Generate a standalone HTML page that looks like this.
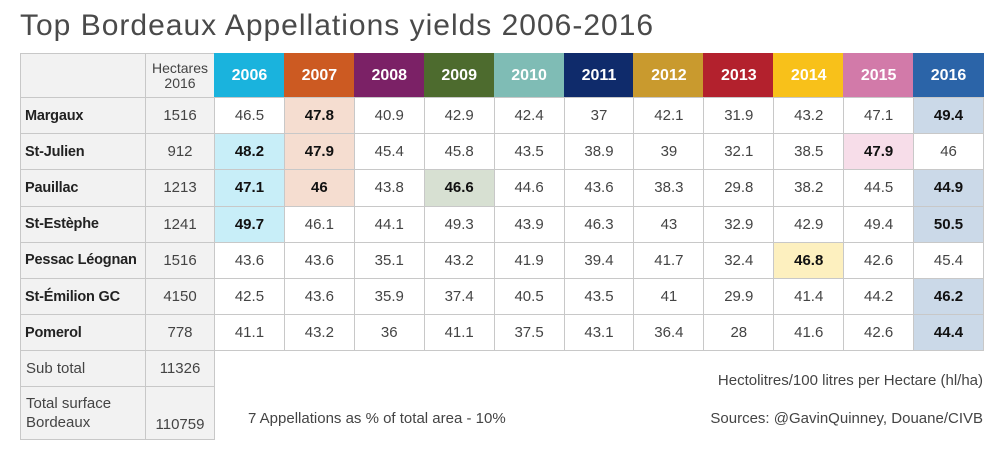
<!DOCTYPE html>
<html><head><meta charset="utf-8">
<style>
body{margin:0;width:1000px;height:459px;background:#fff;position:relative;overflow:hidden;font-family:"Liberation Sans",sans-serif;color:#333}
.c{position:absolute;box-sizing:border-box;border:1px solid #c8c8c8;display:flex;align-items:center;justify-content:center;font-size:15px;color:#444}
.t{position:absolute;font-size:15px;color:#444;white-space:nowrap}
</style></head><body>
<div class="t" style="left:20px;top:9px;font-size:30px;color:#4a4a4a;letter-spacing:1px">Top Bordeaux Appellations yields 2006-2016</div>
<div id="tbl"></div>
<div class="t" style="right:17px;top:372px">Hectolitres/100 litres per Hectare (hl/ha)</div>
<div class="t" style="right:17px;top:410px">Sources: @GavinQuinney, Douane/CIVB</div>
<div class="t" style="left:248px;top:410px">7 Appellations as % of total area - 10%</div>
<script>
const years=['2006','2007','2008','2009','2010','2011','2012','2013','2014','2015','2016'];
const yearColors=['#1ab3dd','#cc5a22','#7b2166','#4d6b2e','#7fbcb5','#0f2b6b','#c99a2e','#b3212d','#f8c11a','#d27aa9','#2b64a8'];
const names=['Margaux','St-Julien','Pauillac','St-Estèphe','Pessac Léognan','St-Émilion GC','Pomerol'];
const hectares=[1516,912,1213,1241,1516,4150,778];
const yields=[
[46.5,47.8,40.9,42.9,42.4,37,42.1,31.9,43.2,47.1,49.4],
[48.2,47.9,45.4,45.8,43.5,38.9,39,32.1,38.5,47.9,46],
[47.1,46,43.8,46.6,44.6,43.6,38.3,29.8,38.2,44.5,44.9],
[49.7,46.1,44.1,49.3,43.9,46.3,43,32.9,42.9,49.4,50.5],
[43.6,43.6,35.1,43.2,41.9,39.4,41.7,32.4,46.8,42.6,45.4],
[42.5,43.6,35.9,37.4,40.5,43.5,41,29.9,41.4,44.2,46.2],
[41.1,43.2,36,41.1,37.5,43.1,36.4,28,41.6,42.6,44.4]];
const highlights=[[0,1],[0,10],[1,0],[1,1],[1,9],[2,0],[2,1],[2,3],[2,10],[3,0],[3,10],[4,8],[5,10],[6,10]];
const hlColors=['#c8eef8','#f5ddd0','#ececec','#d7e0d2','#d4e3df','#ccd3e4','#f3e6cc','#f1d0d3','#fdf0bf','#f7dde9','#cbd9e8'];
const subTotal=11326,totalSurface=110759;
const tbl=document.getElementById('tbl');
const X0=20,XN=145,XH=214,XR=983,Y0=53,YH=97,RH=36.2;
const cw=(XR-XH)/years.length;
function cell(x,y,w,h,txt,style,name){
  const d=document.createElement('div');d.className='c';
  d.style.left=x+'px';d.style.top=y+'px';d.style.width=(w+1)+'px';d.style.height=(h+1)+'px';
  Object.assign(d.style,style||{});d.innerHTML=txt;
  
  
  tbl.appendChild(d);return d;}
cell(X0,Y0,XN-X0,YH-Y0,'',{background:'#f2f2f2'},'header-corner');
cell(XN,Y0,XH-XN,YH-Y0,'Hectares<br>2016',{background:'#f2f2f2',lineHeight:'15px',textAlign:'center',fontSize:'14px'},'hectares-header');
years.forEach((y,i)=>cell(XH+i*cw,Y0,cw,YH-Y0,y,{background:yearColors[i],color:'#fff',fontWeight:'bold',fontSize:'16px',borderColor:yearColors[i]},'year-header-'+y));
names.forEach((n,r)=>{
  const y=YH+r*RH;
  cell(X0,y,XN-X0,RH,n,{background:'#f2f2f2',justifyContent:'flex-start',paddingLeft:'4px',fontWeight:'bold',color:'#222',fontSize:'14.5px',whiteSpace:'nowrap',letterSpacing:'-0.2px'},'row-label-'+r);
  cell(XN,y,XH-XN,RH,String(hectares[r]),{background:'#f2f2f2'},'hectares-'+r);
  yields[r].forEach((v,i)=>{
    const hl=highlights.some(h=>h[0]===r&&h[1]===i);
    cell(XH+i*cw,y,cw,RH,String(v),hl?{background:hlColors[i],fontWeight:'bold',color:'#111'}:{},'yield-cell-'+r+'-'+i);
  });
});
const ys=YH+names.length*RH;
cell(X0,ys,XN-X0,36,'Sub total',{background:'#f2f2f2',justifyContent:'flex-start',paddingLeft:'5px'},'subtotal-label');
cell(XN,ys,XH-XN,36,String(subTotal),{background:'#f2f2f2'},'subtotal-value');
cell(X0,ys+36,XN-X0,53,'Total surface<br>Bordeaux',{background:'#f2f2f2',justifyContent:'flex-start',paddingLeft:'5px',lineHeight:'19px'},'total-label');
cell(XN,ys+36,XH-XN,53,String(totalSurface),{background:'#f2f2f2',alignItems:'flex-end',paddingBottom:'6px'},'total-value');
</script>
</body></html>
